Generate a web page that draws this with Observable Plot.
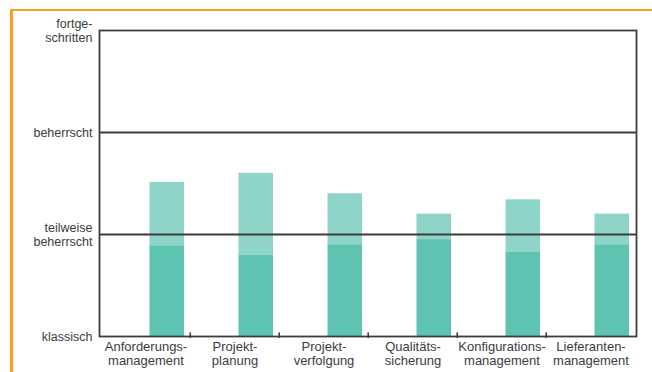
<!DOCTYPE html>
<html>
<head>
<meta charset="utf-8">
<script src="https://cdn.jsdelivr.net/npm/d3@7"></script>
<script src="https://cdn.jsdelivr.net/npm/@observablehq/plot@0.6"></script>
<style>
  html, body { margin: 0; padding: 0; background: #fff; }
  #wrap { position: relative; width: 652px; height: 372px; overflow: hidden; }
  #border { position: absolute; left: 10px; top: 9px; right: -5px; bottom: -5px;
            border-top: 2px solid #f6a21e; border-left: 3px solid #f6a21e; pointer-events: none; }
  #chart { position: absolute; left: 0; top: 0; }
</style>
</head>
<body>
<div id="wrap"><div id="chart"></div><div id="border"></div></div>
<script>
const categories = ["Anforderungs-\nmanagement", "Projekt-\nplanung", "Projekt-\nverfolgung",
                    "Qualitäts-\nsicherung", "Konfigurations-\nmanagement", "Lieferanten-\nmanagement"];
const baseLevel = [0.89, 0.80, 0.90, 0.95, 0.83, 0.90];
const totalLevel = [1.51, 1.60, 1.40, 1.20, 1.34, 1.20];
const levels = [0, 1, 2, 3];
const levelLabels = ["klassisch", "teilweise\nbeherrscht", "beherrscht", "fortge-\nschritten"];
const gridLevels = [1, 2];

const data = categories.map((c, i) => ({cat: c, base: baseLevel[i], total: totalLevel[i]}));

const W = 652, H = 372, mL = 99, mR = 16, mT = 30, mB = 36;
const bw = (W - mL - mR) / categories.length;
const ink = "#3c3c3c";

const plot = Plot.plot({
  width: W, height: H,
  marginLeft: mL, marginRight: mR, marginTop: mT, marginBottom: mB,
  style: {fontFamily: "'Liberation Sans', Arial, sans-serif", fontSize: "13px", color: ink, background: "transparent"},
  x: {domain: categories, padding: 0, label: null},
  y: {domain: [0, 3], label: null},
  marks: [
    Plot.barY(data, {x: "cat", y1: 0, y2: "base", fill: "#5ec3b1", insetLeft: 48.5, insetRight: 6}),
    Plot.barY(data, {x: "cat", y1: "base", y2: "total", fill: "#8fd4c8", insetLeft: 48.5, insetRight: 6}),
    Plot.ruleY(gridLevels, {stroke: ink, strokeWidth: 1.8}),
    Plot.frame({stroke: ink, strokeWidth: 1.8}),
    Plot.ruleX(categories.slice(1), {x: d => d, y1: -0.02, y2: 0.035, dx: -bw / 2, stroke: ink, strokeWidth: 1.6}),
    Plot.axisX({tickSize: 0, tickPadding: 4, lineHeight: 1.1, fontSize: 13, label: null}),
    Plot.axisY(levels, {tickSize: 0, tickPadding: 7, lineHeight: 1.1, fontSize: 12.5, label: null,
                        tickFormat: d => levelLabels[d]})
  ]
});
document.getElementById("chart").appendChild(plot);
</script>
</body>
</html>
